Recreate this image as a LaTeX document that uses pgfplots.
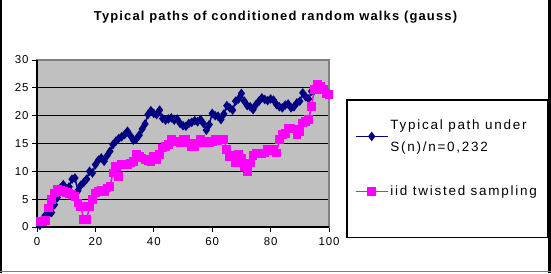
\documentclass[border=0pt]{standalone}
\usepackage{pgfplots}
\pgfplotsset{compat=1.18}
\usepackage{fontspec}
\setmainfont{Liberation Sans}
\newfontfamily\titlefont[LetterSpace=9]{Liberation Sans}
\newfontfamily\legfont[LetterSpace=13]{Liberation Sans}
\newfontfamily\tickfont[LetterSpace=8]{Liberation Sans}
\definecolor{plotgray}{HTML}{C0C0C0}
\definecolor{framegray}{HTML}{808080}
\definecolor{navyblue}{HTML}{000080}
\definecolor{magentap}{HTML}{FF00FF}
\begin{document}
\begin{tikzpicture}[x=1bp,y=1bp]
\useasboundingbox (0,0) rectangle (551,273);
\fill[white] (0,0) rectangle (551,273);
% outer frame
\draw[black, line width=2.5bp] (1.2,0) -- (1.2,273);
\draw[black, line width=2.5bp] (549.5,0) -- (549.5,273);
\draw[framegray, line width=1.2bp] (0,1.5) -- (551,1.5);
% legend box
\draw[black, line width=1.5bp] (347,35.5) rectangle (548,173);
% title
\node[font=\titlefont\bfseries\fontsize{13}{15}\selectfont] at (275.5,256) {Typical paths of conditioned random walks (gauss)};
\begin{axis}[
  at={(37bp,46bp)}, anchor=south west,
  scale only axis, width=292bp, height=167bp,
  xmin=0, xmax=100, ymin=0, ymax=30,
  xtick={0,20,40,60,80,100}, ytick={0,5,10,15,20,25,30},
  tick align=outside, tick pos=left,
  major tick length=5bp,
  every tick/.style={black, line width=1bp},
  ymajorgrids, grid style={black, line width=1.2bp},
  axis background/.style={fill=plotgray},
  axis line style={framegray, line width=1.5bp},
  tick label style={font=\tickfont\fontsize{11.5}{13}\selectfont},
  /pgf/number format/assume math mode=true,
  xticklabel style={yshift=-2bp},
  legend style={draw=none, fill=none, at={(1.078,0.665)}, anchor=north west,
    font=\legfont\fontsize{13.5}{21.5}\selectfont, row sep=29bp,
    cells={anchor=west, align=left}},
  legend cell align=left,
  legend image code/.code={\draw[mark repeat=2,mark phase=2] plot coordinates {(0bp,0bp)(16bp,0bp)(32bp,0bp)};},
  clip=false,
]
\addplot[navyblue, line width=1.5bp, mark=diamond*, mark size=3.6bp, mark options={solid, fill=navyblue}] coordinates {
(1,0.3)(2,1.5)(3,2.2)(4,2.3)(5,2.6)(6,4.0)(7,5.3)(8,7.0)(9,7.6)(10,6.8)
(11,7.2)(12,8.6)(13,8.8)(14,6.5)(15,7.5)(16,8.0)(17,8.6)(18,10.0)(19,9.7)(20,11.2)
(21,12.0)(22,12.4)(23,11.8)(24,12.8)(25,13.6)(26,14.8)(27,15.4)(28,15.9)(29,16.2)(30,16.6)
(31,17.2)(32,16.4)(33,15.6)(34,15.8)(35,16.5)(36,17.6)(37,18.5)(38,20.2)(39,20.9)(40,20.4)
(41,20.2)(42,21.0)(43,19.5)(44,19.2)(45,19.4)(46,19.6)(47,19.2)(48,19.4)(49,18.6)(50,18.2)
(51,18.1)(52,18.6)(53,18.8)(54,19.1)(55,18.9)(56,19.3)(57,18.6)(58,17.4)(59,18.4)(60,20.4)
(61,20.0)(62,19.9)(63,19.3)(64,20.3)(65,21.8)(66,21.4)(67,21.0)(68,22.6)(69,23.0)(70,24.0)
(71,22.6)(72,21.8)(73,21.6)(74,21.1)(75,22.0)(76,22.6)(77,23.2)(78,22.9)(79,22.7)(80,23.0)
(81,22.8)(82,22.0)(83,21.6)(84,21.4)(85,21.9)(86,22.1)(87,21.4)(88,21.6)(89,22.3)(90,22.6)
(91,24.1)(92,23.4)(93,23.0)(94,24.4)(95,24.6)(96,25.3)(97,25.0)(98,24.7)(99,24.4)(100,24.0)
};
\addlegendentry{Typical path under\\S(n)/n=0,232}
\addplot[magentap, line width=1.5bp, mark=square*, mark size=3.6bp, mark options={solid, fill=magentap}] coordinates {
(1,1.0)(2,1.0)(3,1.2)(4,3.4)(5,4.9)(6,6.1)(7,6.7)(8,6.6)(9,6.4)(10,6.2)
(11,6.0)(12,5.8)(13,5.5)(14,4.3)(15,3.7)(16,1.3)(17,1.3)(18,3.7)(19,4.9)(20,6.1)
(21,6.4)(22,6.6)(23,6.4)(24,7.0)(25,7.3)(26,9.7)(27,10.9)(28,9.1)(29,11.2)(30,11.3)
(31,11.2)(32,11.5)(33,11.8)(34,13.0)(35,12.7)(36,12.4)(37,12.1)(38,11.9)(39,11.8)(40,12.7)
(41,12.1)(42,13.0)(43,14.2)(44,14.5)(45,14.8)(46,15.7)(47,15.4)(48,15.3)(49,15.1)(50,15.7)
(51,15.7)(52,15.1)(53,14.5)(54,14.5)(55,15.1)(56,15.7)(57,15.4)(58,15.1)(59,15.1)(60,15.4)
(61,15.7)(62,15.5)(63,15.7)(64,15.7)(65,13.9)(66,12.7)(67,12.9)(68,11.5)(69,13.0)(70,12.4)
(71,10.9)(72,10.0)(73,11.5)(74,12.8)(75,13.3)(76,13.3)(77,13.1)(78,13.3)(79,13.9)(80,13.7)
(81,13.9)(82,13.3)(83,15.7)(84,16.6)(85,16.8)(86,17.8)(87,17.8)(88,17.6)(89,16.6)(90,17.2)
(91,18.7)(92,19.0)(93,19.3)(94,21.7)(95,24.7)(96,25.6)(97,25.2)(98,24.7)(99,24.0)(100,23.8)
};
\addlegendentry{iid twisted sampling}
\draw[black, line width=1.5bp] (rel axis cs:0,1) -- (rel axis cs:0,0) -- (rel axis cs:1,0);
\end{axis}
\end{tikzpicture}
\end{document}
